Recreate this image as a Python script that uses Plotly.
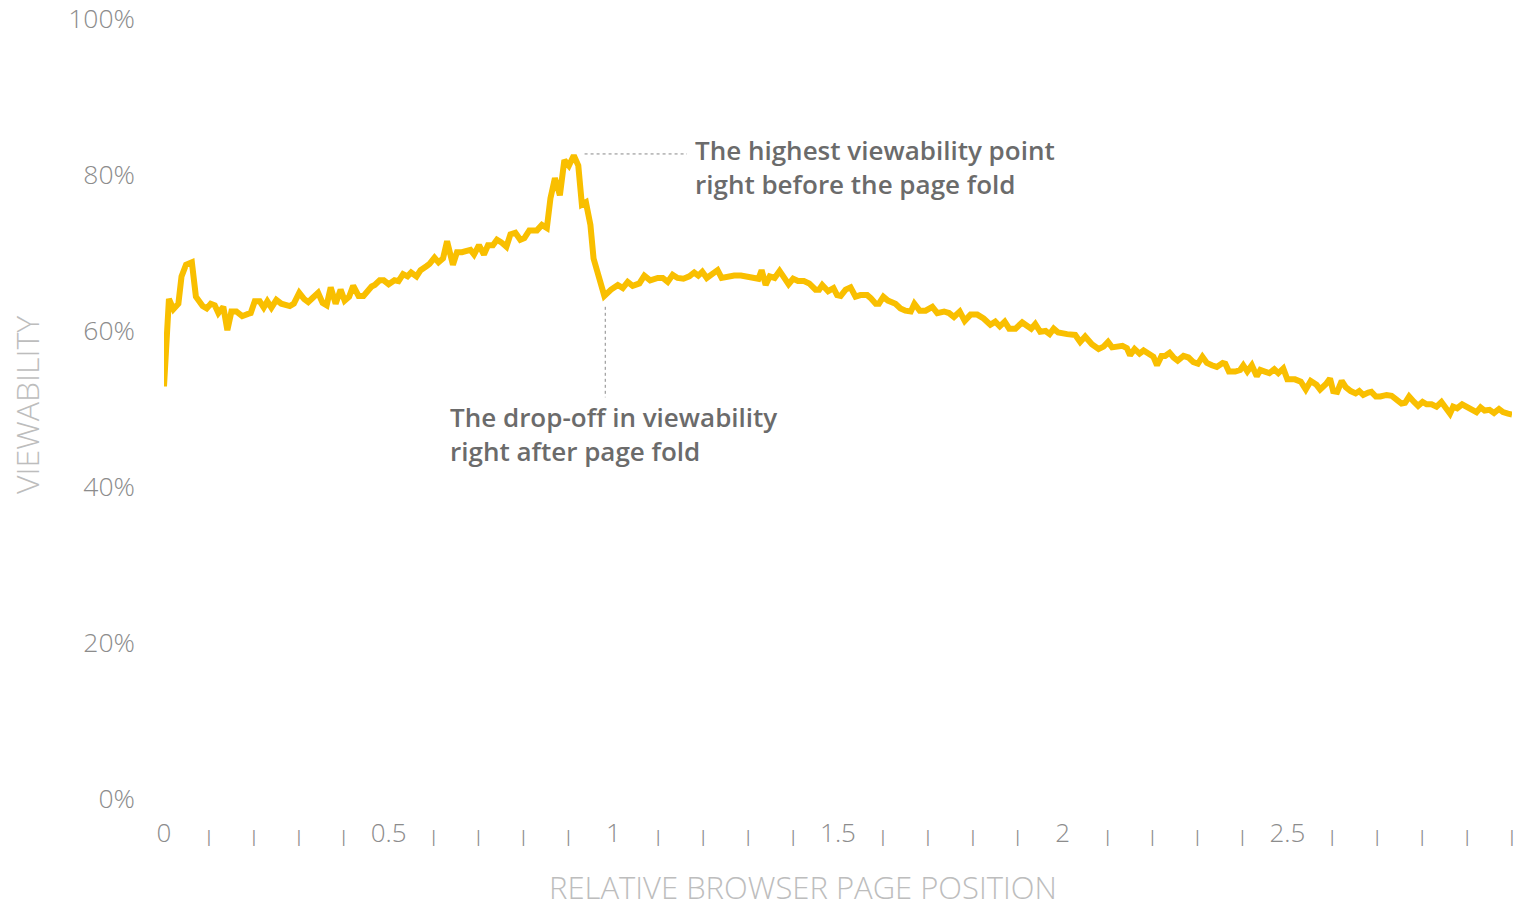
import plotly.graph_objects as go

# Relative browser page position (x) and viewability in % (y)
page_position = [
    0.000, 0.011, 0.021, 0.032, 0.039, 0.049, 0.062, 0.071, 0.086, 0.095,
    0.104, 0.113, 0.121, 0.132, 0.141, 0.150, 0.161, 0.174, 0.187, 0.193,
    0.202, 0.213, 0.222, 0.230, 0.239, 0.250, 0.261, 0.280, 0.289, 0.301,
    0.312, 0.321, 0.330, 0.343, 0.353, 0.362, 0.371, 0.382, 0.393, 0.402,
    0.412, 0.421, 0.433, 0.444, 0.462, 0.469, 0.480, 0.489,
    0.500, 0.513, 0.522, 0.532, 0.542, 0.550, 0.562, 0.571, 0.584, 0.591,
    0.602, 0.611, 0.621, 0.630, 0.643, 0.652, 0.663, 0.673, 0.682, 0.690,
    0.701, 0.712, 0.721, 0.732, 0.741, 0.750, 0.762, 0.771, 0.782, 0.793,
    0.802, 0.813, 0.830, 0.841, 0.852, 0.860, 0.870, 0.881, 0.891, 0.901,
    0.912, 0.922, 0.930, 0.939, 0.949, 0.956, 0.969, 0.980,
    0.995, 1.010, 1.021, 1.032, 1.043, 1.058, 1.069, 1.082, 1.099, 1.110,
    1.121, 1.132, 1.143, 1.156, 1.169, 1.180, 1.189, 1.198, 1.208, 1.218,
    1.232, 1.241, 1.254, 1.269, 1.284, 1.299, 1.313, 1.323, 1.330, 1.339,
    1.348, 1.359, 1.370, 1.380, 1.390, 1.400, 1.411, 1.424, 1.436, 1.450,
    1.458, 1.465, 1.478, 1.490, 1.498,
    1.506, 1.517, 1.528, 1.539, 1.550, 1.565, 1.573, 1.584, 1.591, 1.601,
    1.611, 1.628, 1.639, 1.650, 1.662, 1.670, 1.682, 1.695, 1.710, 1.721,
    1.736, 1.747, 1.758, 1.771, 1.782, 1.795, 1.810, 1.824, 1.839, 1.850,
    1.860, 1.871, 1.881, 1.895, 1.910, 1.921, 1.930, 1.939, 1.950, 1.962,
    1.971, 1.980, 1.990,
    2.010, 2.028, 2.039, 2.050, 2.065, 2.080, 2.091, 2.101, 2.110, 2.121,
    2.133, 2.143, 2.150, 2.160, 2.171, 2.180, 2.191, 2.202, 2.210, 2.220,
    2.228, 2.238, 2.247, 2.256, 2.269, 2.280, 2.291, 2.301, 2.311, 2.321,
    2.332, 2.343, 2.356, 2.362, 2.370, 2.384, 2.395, 2.402, 2.411, 2.421,
    2.432, 2.440, 2.450, 2.460, 2.471, 2.480, 2.491,
    2.500, 2.517, 2.530, 2.541, 2.552, 2.565, 2.573, 2.586, 2.595, 2.602,
    2.611, 2.621, 2.630, 2.641, 2.652, 2.660, 2.669, 2.680, 2.687, 2.697,
    2.707, 2.721, 2.732, 2.743, 2.754, 2.762, 2.771, 2.782, 2.791, 2.801,
    2.810, 2.821, 2.832, 2.843, 2.852, 2.862, 2.869, 2.878, 2.889, 2.900,
    2.911, 2.921, 2.930, 2.939, 2.950, 2.960, 2.971, 2.980, 2.991, 3.000,
]
viewability = [
    52.9, 64.1, 62.8, 63.5, 67.0, 68.5, 68.8, 64.4, 63.2, 62.9,
    63.5, 63.3, 62.3, 63.1, 60.1, 62.5, 62.5, 61.9, 62.2, 62.3,
    63.8, 63.8, 63.0, 63.8, 63.0, 64.0, 63.5, 63.2, 63.5, 64.9,
    64.1, 63.7, 64.2, 64.9, 63.6, 63.3, 65.6, 63.5, 65.3, 63.9,
    64.4, 65.8, 64.5, 64.5, 65.7, 65.9, 66.5, 66.5,
    66.0, 66.5, 66.4, 67.3, 67.0, 67.5, 67.0, 67.8, 68.3, 68.6,
    69.4, 68.8, 69.3, 71.5, 68.5, 70.1, 70.1, 70.2, 70.4, 69.8,
    71.0, 69.8, 71.0, 71.0, 71.7, 71.4, 70.8, 72.4, 72.6, 71.7,
    71.9, 72.9, 72.9, 73.6, 73.2, 77.0, 79.6, 77.4, 81.9, 81.2,
    82.5, 81.2, 76.2, 76.5, 73.6, 69.3, 66.8, 64.5,
    65.3, 65.9, 65.5, 66.3, 65.8, 66.1, 67.1, 66.5, 66.8, 66.8,
    66.3, 67.2, 66.8, 66.7, 67.0, 67.5, 67.1, 67.6, 66.8, 67.3,
    67.8, 66.8, 67.0, 67.1, 67.1, 67.0, 66.8, 66.7, 67.8, 65.9,
    67.0, 66.8, 67.7, 67.0, 66.0, 66.7, 66.4, 66.4, 66.1, 65.3,
    65.3, 65.9, 65.1, 65.5, 64.6,
    64.5, 65.3, 65.6, 64.4, 64.6, 64.6, 64.2, 63.5, 63.5, 64.4,
    63.9, 63.5, 62.9, 62.6, 62.5, 63.5, 62.6, 62.6, 63.1, 62.3,
    62.5, 62.3, 61.8, 62.5, 61.3, 62.1, 62.1, 61.6, 60.8, 61.2,
    60.6, 61.2, 60.3, 60.3, 61.1, 60.6, 60.3, 60.9, 59.9, 60.0,
    59.6, 60.3, 59.8,
    59.6, 59.5, 58.6, 59.3, 58.3, 57.7, 58.0, 58.6, 57.9, 58.0,
    58.1, 57.8, 56.9, 57.7, 57.1, 57.5, 57.1, 56.7, 55.6, 56.8,
    56.8, 57.2, 56.6, 56.2, 56.8, 56.6, 56.0, 55.8, 56.7, 55.9,
    55.6, 55.4, 55.9, 55.8, 54.8, 54.8, 55.0, 55.6, 54.8, 55.6,
    54.2, 55.0, 54.8, 54.6, 55.1, 54.6, 55.2,
    53.8, 53.8, 53.5, 52.5, 53.6, 53.1, 52.5, 53.2, 53.9, 52.3,
    52.2, 53.6, 52.8, 52.3, 52.0, 52.3, 51.8, 52.1, 52.2, 51.6,
    51.6, 51.8, 51.7, 51.2, 50.7, 50.8, 51.6, 50.9, 50.4, 50.9,
    50.6, 50.6, 50.3, 50.9, 50.1, 49.4, 50.3, 50.1, 50.6, 50.3,
    50.0, 49.6, 50.2, 49.8, 49.9, 49.5, 50.0, 49.6, 49.4, 49.3,
]

y_tick_values = [0, 20, 40, 60, 80, 100]
y_tick_labels = ["0%", "20%", "40%", "60%", "80%", "100%"]
x_tick_values = [i / 10 for i in range(31)]
x_tick_labels = [
    "0", "|", "|", "|", "|", "0.5", "|", "|", "|", "|",
    "1", "|", "|", "|", "|", "1.5", "|", "|", "|", "|",
    "2", "|", "|", "|", "|", "2.5", "|", "|", "|", "|", "|",
]

x_title = "RELATIVE BROWSER PAGE POSITION"
y_title = "VIEWABILITY"
peak_note = "The highest viewability point<br>right before the page fold"
drop_note = "The drop-off in viewability<br>right after page fold"

LINE_COLOR = "#F9BF00"
TICK_GREY = "#8c8c8c"
TITLE_GREY = "#bdbdbd"
NOTE_GREY = "#6b6b6b"
FONT = "Open Sans"

ticktext_styled = [
    t if t != "|" else "<span style='font-size:17px;font-weight:400'>|</span>"
    for t in x_tick_labels
]

fig = go.Figure()
fig.add_trace(go.Scatter(
    x=page_position, y=viewability, mode="lines",
    line=dict(color=LINE_COLOR, width=6),
    hoverinfo="skip", showlegend=False,
))

fig.update_layout(
    width=1523, height=907,
    margin=dict(l=164, r=11, t=19, b=108),
    paper_bgcolor="white", plot_bgcolor="white",
    font=dict(family=FONT, color=TICK_GREY),
    showlegend=False,
    xaxis=dict(
        range=[0, 3.0], tickvals=x_tick_values, ticktext=ticktext_styled,
        showgrid=False, zeroline=False, showline=False, ticks="",
        tickfont=dict(family=FONT, size=26, color=TICK_GREY, weight=300),
        ticklabelstandoff=16, automargin=False,
    ),
    yaxis=dict(
        range=[0, 100], tickvals=y_tick_values, ticktext=y_tick_labels,
        showgrid=False, zeroline=False, showline=False, ticks="",
        tickfont=dict(family=FONT, size=26.5, color=TICK_GREY, weight=300),
        ticklabelstandoff=28, automargin=False,
    ),
)

# axis titles
fig.add_annotation(x=0.474, y=-0.1128, xref="paper", yref="paper", text=x_title,
                   showarrow=False, xanchor="center", yanchor="middle", borderpad=0,
                   font=dict(family=FONT, size=31, color=TITLE_GREY, weight=300))
fig.add_annotation(x=-0.1024, y=0.505, xref="paper", yref="paper", text=y_title,
                   showarrow=False, xanchor="center", yanchor="middle", textangle=-90,
                   font=dict(family=FONT, size=32, color=TITLE_GREY, weight=300))

# dotted leader lines
fig.add_shape(type="line", x0=0.936, x1=1.164, y0=82.7, y1=82.7,
              line=dict(color="#888888", width=1, dash="dot"))
fig.add_shape(type="line", x0=0.982, x1=0.982, y0=63.1, y1=51.5,
              line=dict(color="#888888", width=1, dash="dot"))

# callout texts
fig.add_annotation(x=1.178, y=81.0, xref="x", yref="y", text=peak_note,
                   showarrow=False, xanchor="left", yanchor="middle", align="left",
                   font=dict(family=FONT, size=26, color=NOTE_GREY, weight=600))
fig.add_annotation(x=0.631, y=46.8, xref="x", yref="y", text=drop_note,
                   showarrow=False, xanchor="left", yanchor="middle", align="left",
                   font=dict(family=FONT, size=26, color=NOTE_GREY, weight=600))

fig.write_html("out.html", config={"displayModeBar": False},
               post_script="document.body.style.margin='0';")
